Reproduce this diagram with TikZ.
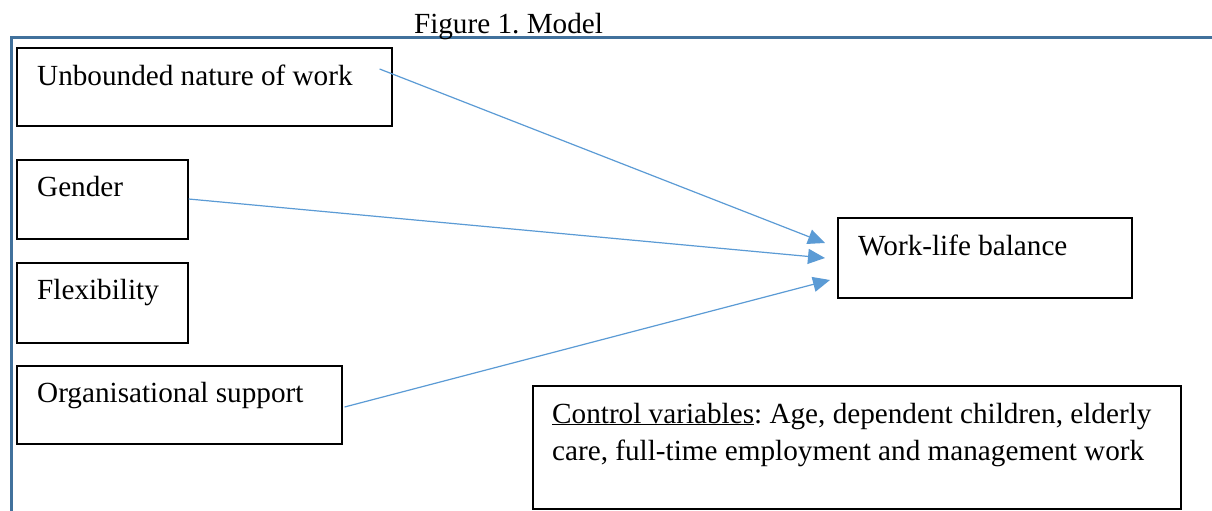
\documentclass[tikz,border=0pt]{standalone}
\usepackage{fontspec}
\setmainfont{Liberation Serif}
\usetikzlibrary{arrows.meta,calc}
\definecolor{framec}{RGB}{65,113,156}
\definecolor{arrc}{RGB}{91,155,213}
\frenchspacing
\begin{document}
\begin{tikzpicture}[x=1pt,y=-1pt,
  box/.style={draw=black,line width=1.6pt,rectangle,inner sep=0pt,anchor=north west},
  lbl/.style={anchor=base west,inner sep=0pt,font=\fontsize{29.2}{37}\selectfont},
  conn/.style={draw=arrc,line width=1.2pt,-{Triangle[length=17pt,width=15pt]}}]
\useasboundingbox (0,0) rectangle (1212,511);
\fill[white] (0,0) rectangle (1212,511);
\draw[framec,line width=3pt] (1212,37.5) -- (11,37.5) -- (11,511);
\node[lbl,anchor=base] (title) at (508.5,34) {Figure 1. Model};
% boxes
\node[box,minimum width=375pt,minimum height=78pt] (unb) at (16,47) {};
\node[box,minimum width=171pt,minimum height=79pt] (gen) at (16,159) {};
\node[box,minimum width=171pt,minimum height=80pt] (flex) at (16,262) {};
\node[box,minimum width=325pt,minimum height=78pt] (org) at (16,365) {};
\node[box,minimum width=294pt,minimum height=80pt] (wlb) at (837,217) {};
\node[box,minimum width=648pt,minimum height=123pt] (ctrl) at (532,385) {};
% labels
\node[lbl] (unbT) at (37,85) {Unbounded nature of work};
\node[lbl] (genT) at (37,196) {Gender};
\node[lbl] (flexT) at (37,299) {Flexibility};
\node[lbl] (orgT) at (37,402) {Organisational support};
\node[lbl] (wlbT) at (858,255) {Work-life balance};
\node[lbl] (ctrlT1) at (552,423) {\underline{Control variables}: Age, dependent children, elderly};
\node[lbl] (ctrlT2) at (552,460) {care, full-time employment and management work};
% connector end points
\coordinate (s1) at ($(unb.north east)+(-13,22)$);
\coordinate (e1) at ($(wlb.north west)+(-12,26)$);
\coordinate (s2) at ($(gen.north east)+(0,40)$);
\coordinate (e2) at ($(wlb.north west)+(-12,41)$);
\coordinate (s3) at ($(org.north east)+(2,42)$);
\coordinate (e3) at ($(wlb.north west)+(-7,63)$);
\draw[conn] (s1) -- (e1);
\draw[conn] (s2) -- (e2);
\draw[conn] (s3) -- (e3);
\end{tikzpicture}
\end{document}
